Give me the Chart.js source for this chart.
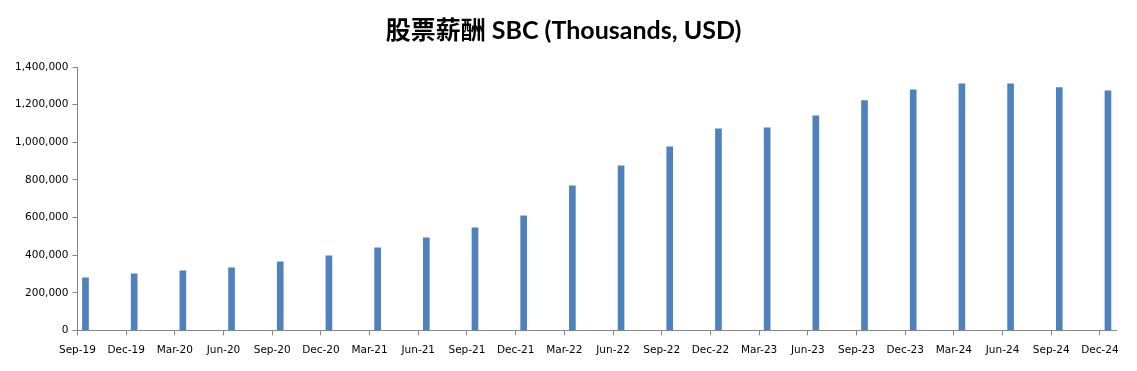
<!DOCTYPE html>
<html>
<head>
<meta charset="utf-8">
<script src="https://cdn.jsdelivr.net/npm/chart.js@4/dist/chart.umd.min.js"></script>
<style>
  html, body { margin: 0; padding: 0; background: #fff; }
  #wrap { width: 1137px; height: 371px; }
</style>
</head>
<body>
<div id="wrap"><canvas id="sbcChart"></canvas></div>
<script>
// quarter labels and SBC values (thousands USD)
const quarters = ['Sep-19', 'Dec-19', 'Mar-20', 'Jun-20', 'Sep-20', 'Dec-20', 'Mar-21', 'Jun-21',
  'Sep-21', 'Dec-21', 'Mar-22', 'Jun-22', 'Sep-22', 'Dec-22', 'Mar-23', 'Jun-23',
  'Sep-23', 'Dec-23', 'Mar-24', 'Jun-24', 'Sep-24', 'Dec-24'];
const sbc = [279000, 300500, 316500, 332000, 364000, 396000, 439000, 492000,
  545000, 609000, 768600, 875000, 976000, 1072000, 1077000, 1141000,
  1221000, 1279000, 1311000, 1311000, 1290000, 1274000];
const yTicks = [0, 200000, 400000, 600000, 800000, 1000000, 1200000, 1400000];

const barShift = 0.165; // bars sit a little right of each tick, like the source
const axisGray = '#868686';

const ctx = document.getElementById('sbcChart').getContext('2d');
new Chart(ctx, {
  type: 'bar',
  data: {
    datasets: [{
      data: sbc.map((v, i) => ({ x: i + barShift, y: v })),
      backgroundColor: '#4F81BD',
      barThickness: 6
    }]
  },
  options: {
    responsive: true,
    maintainAspectRatio: false,
    animation: false,
    layout: { padding: { left: 11, right: 21, top: 8, bottom: 5 } },
    plugins: {
      legend: { display: false },
      tooltip: { enabled: false },
      title: {
        display: true,
        text: '股票薪酬 SBC (Thousands, USD)',
        color: '#000',
        font: { family: 'Lato, "Noto Sans CJK SC", sans-serif', size: 25, weight: 'bold' },
        padding: { top: 8, bottom: 21 }
      }
    },
    scales: {
      x: {
        type: 'linear',
        offset: false,
        min: 0,
        max: quarters.length - 1 + 0.33,
        grid: {
          display: true,
          offset: false,
          drawOnChartArea: false,
          drawTicks: true,
          tickLength: 5,
          color: axisGray
        },
        border: { color: axisGray },
        ticks: {
          stepSize: 1,
          includeBounds: false,
          autoSkip: false,
          maxRotation: 0,
          color: '#000',
          font: { family: '"DejaVu Sans", sans-serif', size: 10.5 },
          padding: 9,
          callback: v => quarters[v]
        }
      },
      y: {
        min: 0,
        max: 1400000,
        afterBuildTicks: axis => { axis.ticks = yTicks.map(v => ({ value: v })); },
        grid: {
          display: true,
          drawOnChartArea: false,
          drawTicks: true,
          tickLength: 5,
          color: axisGray
        },
        border: { color: axisGray },
        ticks: {
          color: '#000',
          font: { family: '"DejaVu Sans", sans-serif', size: 10.5 },
          padding: 4,
          callback: v => v.toLocaleString('en-US')
        }
      }
    }
  }
});
</script>
</body>
</html>
